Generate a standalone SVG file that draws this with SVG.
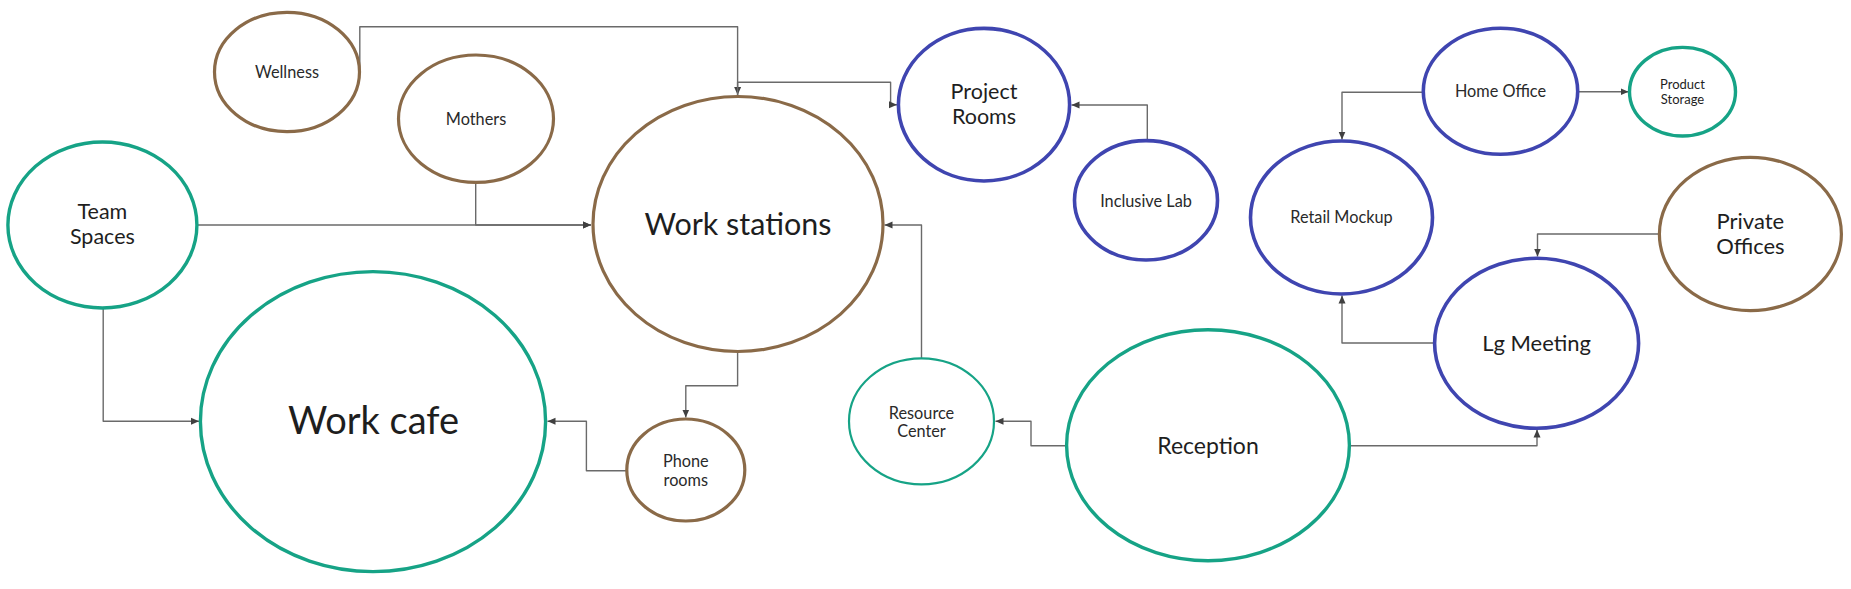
<svg xmlns="http://www.w3.org/2000/svg" width="1851" height="589" viewBox="0 0 1851 589">
<style>
.n{fill:#fff;}
.br{stroke:#8a6a48;stroke-width:3.2;}
.gr{stroke:#16a386;stroke-width:3.4;}
.bl{stroke:#3f45b0;stroke-width:3.6;}
.t{font-family:Lato,"Liberation Sans",sans-serif;fill:#1e1e1e;text-anchor:middle;dominant-baseline:central;}
.s{font-size:16.3px;fill:#2a2a2a;}
.c{fill:none;stroke:#6a6a6a;stroke-width:1.4;stroke-linejoin:round;marker-end:url(#a);}
</style>
<defs>
<marker id="a" markerUnits="userSpaceOnUse" markerWidth="9" markerHeight="8" refX="8" refY="4" orient="auto">
<path d="M0,0.5 L8,4 L0,7.5 z" fill="#404040"/>
</marker>
</defs>
<rect width="1851" height="589" fill="#fff"/>
<g id="connectors">
<path class="c" d="M359.8,70.7 V26.7 H737.6 V95"/>
<path class="c" d="M737.6,96.7 V82.3 H890.6 V104.7 H897"/>
<path class="c" d="M197,225 H591"/>
<path class="c" d="M475.7,182.3 V225 H591"/>
<path class="c" d="M1147.3,140.7 V105 H1071.5"/>
<path class="c" d="M921.5,358 V225 H884.5"/>
<path class="c" d="M737.6,351.7 V385.7 H685.8 V417.5"/>
<path class="c" d="M627,470.7 H586.4 V421.3 H547.5"/>
<path class="c" d="M103.2,308 V421.3 H199"/>
<path class="c" d="M1066.6,445.7 H1031 V421.3 H995.5"/>
<path class="c" d="M1349.4,445.7 H1537 V429.5"/>
<path class="c" d="M1577.8,91.7 H1628.5"/>
<path class="c" d="M1423.3,92.3 H1342 V139.5"/>
<path class="c" d="M1659.5,234 H1537.5 V256.5"/>
<path class="c" d="M1434.5,343 H1342 V295.5"/>
</g>
<g id="wellness"><ellipse class="n br" cx="287" cy="72" rx="72.5" ry="59.7"/><text class="t s" x="287" y="71">Wellness</text></g>
<g id="mothers"><ellipse class="n br" cx="476" cy="118.7" rx="77.5" ry="63.7"/><text class="t s" x="476" y="118">Mothers</text></g>
<g id="team-spaces"><ellipse class="n gr" cx="102.4" cy="225" rx="94.5" ry="83"/><text class="t" x="102.4" y="211" font-size="21.5">Team</text><text class="t" x="102.4" y="236" font-size="21.5">Spaces</text></g>
<g id="work-stations"><ellipse class="n br" cx="738" cy="224" rx="145" ry="127.5"/><text class="t" x="738" y="223" font-size="30.5">Work stations</text></g>
<g id="project-rooms"><ellipse class="n bl" cx="984" cy="104.7" rx="85.6" ry="76.3"/><text class="t" x="984" y="91" font-size="21.5">Project</text><text class="t" x="984" y="116" font-size="21.5">Rooms</text></g>
<g id="inclusive-lab"><ellipse class="n bl" cx="1146" cy="200.3" rx="71.5" ry="59.7"/><text class="t s" x="1146" y="200">Inclusive Lab</text></g>
<g id="work-cafe"><ellipse class="n gr" cx="373" cy="421.6" rx="172.6" ry="150"/><text class="t" x="373.5" y="419" font-size="38">Work cafe</text></g>
<g id="phone-rooms"><ellipse class="n br" cx="685.8" cy="470" rx="59" ry="51"/><text class="t s" x="685.8" y="460">Phone</text><text class="t s" x="685.8" y="479">rooms</text></g>
<g id="resource-center"><ellipse class="n" cx="921.5" cy="421.3" rx="72.5" ry="63" stroke="#16a386" stroke-width="2.2"/><text class="t s" x="921.5" y="412">Resource</text><text class="t s" x="921.5" y="430">Center</text></g>
<g id="reception"><ellipse class="n gr" cx="1208" cy="445.2" rx="141.4" ry="115.5"/><text class="t" x="1208" y="445" font-size="23">Reception</text></g>
<g id="home-office"><ellipse class="n bl" cx="1500.5" cy="91.3" rx="77.2" ry="63"/><text class="t s" x="1500.5" y="90.7">Home Office</text></g>
<g id="product-storage"><ellipse class="n gr" cx="1682.5" cy="91.7" rx="53" ry="44.3"/><text class="t" x="1682.5" y="83.5" font-size="13" fill="#2a2a2a">Product</text><text class="t" x="1682.5" y="99" font-size="13" fill="#2a2a2a">Storage</text></g>
<g id="retail-mockup"><ellipse class="n bl" cx="1341.5" cy="217.5" rx="91" ry="76.5"/><text class="t s" x="1341.5" y="216.7">Retail Mockup</text></g>
<g id="private-offices"><ellipse class="n br" cx="1750.4" cy="234" rx="91" ry="76.7"/><text class="t" x="1750.4" y="220" font-size="22">Private</text><text class="t" x="1750.4" y="245" font-size="22">Offices</text></g>
<g id="lg-meeting"><ellipse class="n bl" cx="1536.6" cy="343.3" rx="102" ry="85"/><text class="t" x="1536.6" y="342.3" font-size="22">Lg Meeting</text></g>
</svg>
